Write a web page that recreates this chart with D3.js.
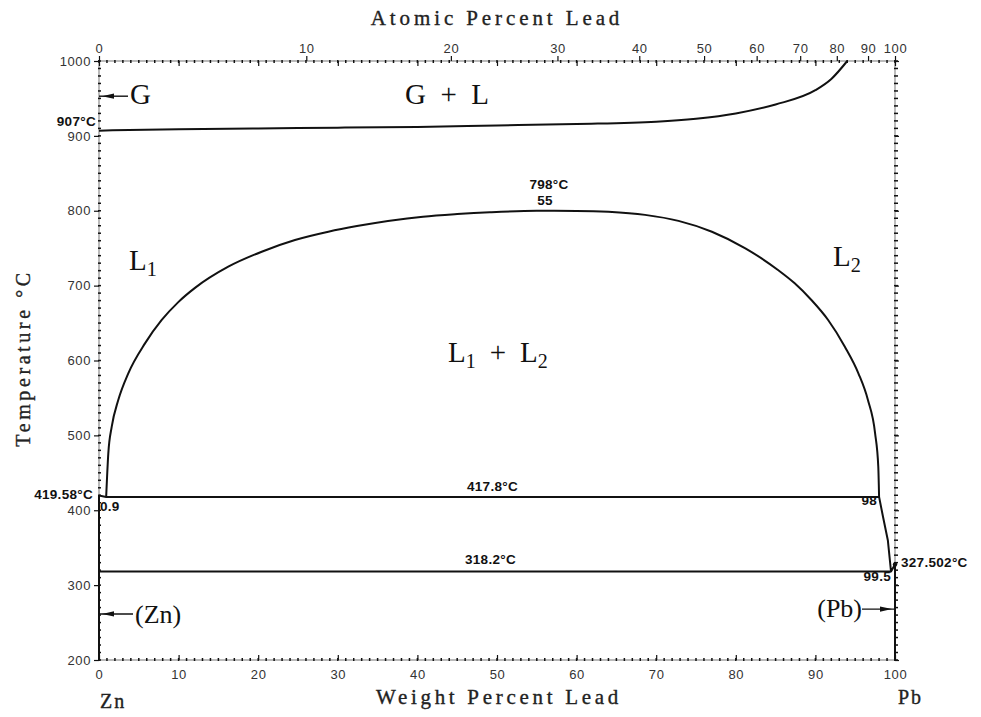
<!DOCTYPE html>
<html><head><meta charset="utf-8">
<script src="https://cdn.jsdelivr.net/npm/d3@7"></script>
<style>body{margin:0;background:#fff}svg{display:block}</style>
</head><body><svg id="c" width="981" height="717"></svg>
<script>
// ---------- data ----------
const wtTicks = [0,10,20,30,40,50,60,70,80,90,100];
const atTicks = [0,10,20,30,40,50,60,70,80,90,100];
const tempTicks = [200,300,400,500,600,700,800,900,1000];

// gas / liquid boundary (wt% Pb, °C)
const boilWt = [0,10,20,30,40,50,60,70,75,80,85,90,92,94];
const boilT  = [907,909,910,911,912,914,916,919,923,930,942,961,976,1000];

// L1 + L2 miscibility gap
const domeWt = [0.9,1.17,1.6,2.42,3.68,5.78,7.88,9.96,12.06,16.24,20.44,24.62,28.81,32.4,40.7,45,49.1,55,60,64,68.6,72.8,77,81.2,85.3,87.4,89.5,91.6,93.7,95.4,96.6,97.5,97.9,98];
const domeT  = [417.8,476,511.6,547.2,582.9,622.9,654.1,678,697,725.3,745.3,760.9,772,779.5,792,795.5,798,800,799.8,798.6,794.5,786.5,772,749.8,720.9,703.1,680.8,654.1,618.4,582.9,547.2,502.8,458.2,417.8];

// Pb-side liquidus
const pbWt = [98,98.5,99.1,99.5];
const pbT  = [417.8,391,360,318.2];

const monotecticT = 417.8, eutecticT = 318.2, znMelt = 419.58, pbMelt = 327.502, znBoil = 907;

// ---------- setup ----------
const MZn = 65.38, MPb = 207.2;
const atToWt = a => 100 * a * MPb / (a * MPb + (100 - a) * MZn);

const x = d3.scaleLinear([0,100],[99,895]);
const y = d3.scaleLinear([200,1000],[660,61]);
const svg = d3.select("#c");
const ink = "#111";

// ---------- frame with minor ticks ----------
const g = svg.append("g");
g.append("rect").attr("x",x(0)).attr("y",y(1000)).attr("width",x(100)-x(0)).attr("height",y(200)-y(1000))
  .attr("fill","none").attr("stroke","#555").attr("stroke-width",0.8);

const minorWt = d3.range(0,101,1);
const minorT = d3.range(200,1001,10);
g.selectAll(".mb").data(minorWt).join("line")
  .attr("x1",d=>x(d)).attr("x2",d=>x(d)).attr("y1",y(200)+1).attr("y2",y(200)-2)
  .attr("stroke",ink).attr("stroke-width",1.5);
g.selectAll(".mt").data(minorWt).join("line")
  .attr("x1",d=>x(d)).attr("x2",d=>x(d)).attr("y1",y(1000)-1).attr("y2",y(1000)+2)
  .attr("stroke",ink).attr("stroke-width",1.5);
g.selectAll(".ml").data(minorT).join("line")
  .attr("x1",x(0)-1).attr("x2",x(0)+2).attr("y1",d=>y(d)).attr("y2",d=>y(d))
  .attr("stroke",ink).attr("stroke-width",1.5);
g.selectAll(".mr").data(minorT).join("line")
  .attr("x1",x(100)-1).attr("x2",x(100)+3).attr("y1",d=>y(d)).attr("y2",d=>y(d))
  .attr("stroke",ink).attr("stroke-width",1.5);

// ---------- axes ----------
const tickFont = "'Liberation Sans', Arial, sans-serif";
const bottomAxis = d3.axisBottom(x).tickValues(wtTicks).tickSize(-5).tickPadding(10).tickFormat(d3.format("d"));
const ba = svg.append("g").attr("transform",`translate(0,${y(200)})`).call(bottomAxis);
const topWtAxis = d3.axisTop(x).tickValues(wtTicks).tickSize(-5).tickFormat("");
const twa = svg.append("g").attr("transform",`translate(0,${y(1000)})`).call(topWtAxis);
const topAtAxis = d3.axisTop(x).tickValues(atTicks.map(atToWt)).tickSize(5).tickPadding(3)
  .tickFormat((d,i)=>atTicks[i]);
const taa = svg.append("g").attr("transform",`translate(0,${y(1000)})`).call(topAtAxis);
const leftAxis = d3.axisLeft(y).tickValues(tempTicks).tickSize(5).tickPadding(3).tickFormat(d3.format("d"));
const la = svg.append("g").attr("transform",`translate(${x(0)},0)`).call(leftAxis);
const rightAxis = d3.axisRight(y).tickValues(tempTicks).tickSize(4).tickFormat("");
const ra = svg.append("g").attr("transform",`translate(${x(100)},0)`).call(rightAxis);
[ba,twa,taa,la,ra].forEach(a=>{
  a.select(".domain").remove();
  a.selectAll(".tick line").attr("stroke",ink).attr("stroke-width",1.2);
  a.selectAll("text").attr("font-family",tickFont).attr("font-size",13).attr("fill","#333").attr("letter-spacing",0.6);
});

// ---------- phase boundaries ----------
const lw = 2;
const lineM = d3.line().x(d=>x(d[0])).y(d=>y(d[1])).curve(d3.curveMonotoneX);
const lineL = d3.line().x(d=>x(d[0])).y(d=>y(d[1]));
function draw(pts, gen){
  svg.append("path").datum(pts).attr("d",gen).attr("fill","none").attr("stroke",ink)
    .attr("stroke-width",lw).attr("stroke-linejoin","round");
}
draw(boilWt.map((w,i)=>[w,boilT[i]]), lineM);
draw(domeWt.map((w,i)=>[w,domeT[i]]), lineM);
draw(pbWt.map((w,i)=>[w,pbT[i]]).concat([[100,pbMelt]]), lineL);
draw([[0,znMelt],[0.9,monotecticT],[98,monotecticT]], lineL);
draw([[0,eutecticT],[99.5,eutecticT]], lineL);
draw([[0,200],[0,znMelt]], lineL);
draw([[100,200],[100,pbMelt]], lineL);
svg.append("circle").attr("cx",x(100)).attr("cy",y(pbMelt)).attr("r",2.2).attr("fill",ink);

// ---------- titles ----------
const serif = "'Liberation Serif', 'Times New Roman', serif";
function title(txt, attrs){
  const t = svg.append("text").attr("font-family",serif).attr("fill","#222")
    .attr("stroke","#222").attr("stroke-width",0.35).text(txt);
  Object.entries(attrs).forEach(([k,v])=>t.attr(k,v));
  return t;
}
title("Atomic Percent Lead",{x:497,y:25,"text-anchor":"middle","font-size":21,"letter-spacing":3.9});
title("Weight Percent Lead",{x:499,y:704,"text-anchor":"middle","font-size":21,"letter-spacing":3.7});
title("Temperature °C",{transform:"translate(30,358) rotate(-90)","text-anchor":"middle","font-size":20,"letter-spacing":3.6});
title("Zn",{x:x(0)+1,y:708,"font-size":20,"letter-spacing":2});
title("Pb",{x:x(100)+3,y:704,"font-size":20,"letter-spacing":2});

// ---------- region labels ----------
function region(px, py, main, sub, size){
  const t = svg.append("text").attr("x",px).attr("y",py).attr("font-family",serif)
    .attr("font-size",size).attr("fill",ink);
  t.append("tspan").text(main);
  if(sub){ t.append("tspan").attr("font-size",size*0.7).attr("dy",6).text(sub); }
  return t;
}
region(130,104,"G",null,29);
svg.append("text").attr("x",447).attr("y",104).attr("text-anchor","middle").attr("font-family",serif)
  .attr("font-size",29).attr("fill",ink).attr("xml:space","preserve").text("G  +  L");
region(129,270,"L","1",29);
region(833,266,"L","2",29);
const ll = svg.append("text").attr("x",448).attr("y",362).attr("font-family",serif).attr("font-size",29).attr("fill",ink);
ll.append("tspan").text("L");
ll.append("tspan").attr("font-size",20).attr("dy",6).text("1");
ll.append("tspan").attr("dy",-6).attr("dx",14).text("+");
ll.append("tspan").attr("dx",14).text("L");
ll.append("tspan").attr("font-size",20).attr("dy",6).text("2");

region(135,623,"(Zn)",null,26);
svg.append("text").attr("x",862).attr("y",617).attr("text-anchor","end").attr("font-family",serif)
  .attr("font-size",26).attr("fill",ink).text("(Pb)");

// arrows
function arrow(x1, x2, py, tipX, dir){
  svg.append("line").attr("x1",x1).attr("x2",x2).attr("y1",py).attr("y2",py).attr("stroke",ink).attr("stroke-width",1.4);
  const b = tipX - dir*12;
  svg.append("path").attr("d",`M${tipX},${py} L${b},${py-2.6} L${b},${py+2.6} Z`).attr("fill",ink);
}
arrow(x(0), 128, y(953), x(0)+3, -1);
arrow(x(0), 133, y(261.5), x(0)+3, -1);
arrow(862, x(100), y(268), x(100)-3, 1);

// ---------- value labels ----------
const sans = "'Liberation Sans', Arial, sans-serif";
function val(px, py, txt, anchor){
  svg.append("text").attr("x",px).attr("y",py).attr("text-anchor",anchor||"start")
    .attr("font-family",sans).attr("font-weight","bold").attr("font-size",13.5).attr("letter-spacing",0.3)
    .attr("fill",ink).text(txt);
}
val(x(0)-3, y(znBoil)-5, "907°C", "end");
val(549, 189, "798°C", "middle");
val(545, 205, "55", "middle");
val(x(0)-6, y(znMelt)+3, "419.58°C", "end");
val(x(0)+1, 511, "0.9");
val(467, y(monotecticT)-6, "417.8°C");
val(877, 505, "98", "end");
val(465, y(eutecticT)-7, "318.2°C");
val(901, y(pbMelt)+2, "327.502°C");
val(891, 581, "99.5", "end");
</script></body></html>
